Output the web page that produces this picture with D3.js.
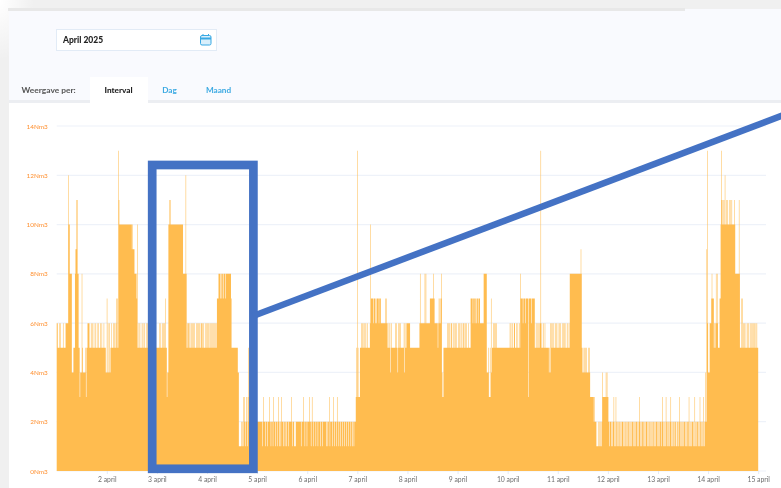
<!DOCTYPE html>
<html>
<head>
<meta charset="utf-8">
<script src="https://cdn.jsdelivr.net/npm/d3@7"></script>
<style>
html, body { margin: 0; padding: 0; background: #fff; overflow: hidden; }
text { font-family: Lato, "Open Sans", sans-serif; }
</style>
</head>
<body>
<div id="chart"></div>
<script>
var dayTicks = [2, 3, 4, 5, 6, 7, 8, 9, 10, 11, 12, 13, 14, 15];
var yTicks = [0, 2, 4, 6, 8, 10, 12, 14];
var tabNames = ["Interval", "Dag", "Maand"];

// [day in april, Nm3 from that moment on]
var baseRuns = [
    [1.00, 5], [1.17, 6], [1.23, 10], [1.26, 8], [1.30, 4], [1.33, 5], [1.36, 8], [1.43, 5], [1.45, 4], [1.51, 5],
    [1.52, 4], [1.57, 5], [1.97, 4], [2.07, 5], [2.23, 10], [2.52, 9], [2.55, 8], [2.59, 7], [2.61, 5], [3.19, 4],
    [3.23, 10], [3.52, 8], [3.59, 5], [4.20, 7], [4.23, 8], [4.47, 7], [4.49, 5], [4.61, 4], [4.63, 1], [4.68, 2],
    [6.96, 3], [7.05, 5], [7.25, 6], [7.27, 7], [7.46, 6], [7.60, 5], [7.98, 6], [8.05, 5], [8.24, 6], [8.44, 7],
    [8.54, 6], [8.60, 5], [9.26, 7], [9.44, 6], [9.52, 8], [9.58, 4], [9.60, 5], [10.26, 7], [10.54, 5], [11.24, 8],
    [11.47, 4], [11.64, 3], [11.71, 2], [11.88, 3], [12.01, 2], [13.96, 6], [14.00, 4], [14.03, 6], [14.06, 7],
    [14.11, 5], [14.22, 7], [14.25, 10], [14.54, 8], [14.63, 5]
];

// single intervals that stand out from the base level
var spikes13 = [2.23, 7.00, 10.66, 13.98, 14.26];
var spikes12 = [1.23, 3.57, 14.33];
var spikes11 = [1.39, 1.41, 2.24, 3.25, 3.27, 14.27, 14.29, 14.31, 14.36, 14.39, 14.42, 14.45, 14.47, 14.52, 14.61];
var spikes10 = [1.24, 2.60, 7.26];
var spikes9 = [1.37, 1.40, 2.50, 11.46, 13.97];
var spikes8 = [1.50, 8.25, 8.34, 8.36, 8.51, 8.68, 10.25, 14.07, 14.16, 14.18];
var spikes7 = [2.00, 2.19, 2.21, 3.17, 4.20, 7.55, 7.57, 8.62, 8.65, 8.67, 9.67, 10.66, 14.68, 14.66];
var spikes6 = [
    1.00, 1.01, 1.05, 1.07, 1.12, 1.46, 1.60, 1.62, 1.64, 1.66, 1.69, 1.71, 1.74, 1.77, 1.80, 1.83, 1.86, 1.90, 1.94,
    2.02, 2.05, 2.09, 2.12, 2.15, 2.18, 2.64, 2.66, 2.70, 2.72, 2.75, 2.78, 2.80, 3.05, 3.07, 3.10, 3.12, 3.15,
    3.60, 3.62, 3.64, 3.66, 3.69, 3.71, 3.73, 3.75, 3.78, 3.80, 3.82, 3.84, 3.87, 3.89, 3.91, 3.93, 3.96, 3.98,
    4.00, 4.02, 4.05, 4.07, 4.09, 4.11, 4.14, 4.16, 4.18, 4.81, 7.07, 7.09, 7.12, 7.15, 7.17, 7.20, 7.63, 7.65, 7.68,
    7.76, 7.78, 7.81, 7.83, 7.85, 7.93, 7.95, 8.61, 8.64, 8.66, 8.69, 8.79, 8.81, 8.83, 8.86, 8.88, 8.91, 8.93, 8.96,
    8.98, 9.01, 9.03, 9.06, 9.08, 9.11, 9.13, 9.16, 9.18, 9.21, 9.71, 9.73, 9.75, 9.77, 10.04, 10.06, 10.09, 10.12,
    10.14, 10.17, 10.20, 10.23, 10.56, 10.58, 10.60, 10.63, 10.65, 10.68, 10.71, 10.74, 10.82, 10.85, 10.87, 10.90,
    10.92, 10.95, 10.97, 11.00, 11.03, 11.05, 11.08, 11.10, 11.13, 11.16, 11.19, 11.22, 14.13, 14.15, 14.17, 14.19,
    14.70, 14.72, 14.75, 14.78, 14.80, 14.83, 14.85, 14.88, 14.90, 14.92, 14.95, 14.97, 15.00,
    7.31, 7.35, 7.38, 7.43, 9.30, 9.34, 9.38, 9.41, 10.30, 10.35, 10.41, 10.47
];
var spikes5 = [
    4.80, 4.82, 6.98, 7.01, 11.48, 11.50, 11.53, 11.55, 11.57, 11.60, 11.62
];
var spikes7b = [4.26, 4.29, 4.32, 4.36, 8.47, 8.50];
var spikes4 = [11.89, 11.96, 11.98, 4.62, 13.95];
var spikes3 = [
    4.72, 4.74, 4.76, 4.78, 4.81, 4.84, 4.86, 5.12, 5.24, 5.32, 5.42, 5.48, 5.55, 5.62, 5.68, 5.87, 5.92, 6.04, 6.09,
    6.38, 6.44, 6.52, 6.59, 11.73, 12.11, 12.16, 12.38, 12.63, 13.08, 13.16, 13.25, 13.43, 13.61, 13.73, 13.83, 13.91
];
var dips3 = [1.46, 1.58, 3.20, 8.70, 8.71, 9.62, 9.64, 9.66, 10.41];
var dips4 = [
    1.98, 2.04, 7.66, 7.80, 7.94, 8.67, 8.69, 9.60, 10.82, 10.84, 9.68
];
var dips1 = [
    4.70, 4.73, 4.76, 4.80, 4.85, 5.10, 5.17, 5.20, 5.27, 5.31, 5.36, 5.40, 5.44, 5.47, 5.52, 5.55, 5.58, 5.63, 5.70,
    5.74, 5.75, 5.76, 5.87, 5.95, 5.99, 6.07, 6.11, 6.17, 6.21, 6.26, 6.30, 6.38, 6.41, 6.45, 6.50, 6.54, 6.58, 6.62,
    6.66, 6.70, 6.74, 6.78, 6.82, 6.86, 6.90, 6.93, 11.77, 11.78, 11.79, 11.81, 11.82, 11.84, 11.86, 12.03, 12.06,
    12.08, 12.13, 12.15, 12.18, 12.20, 12.22, 12.25, 12.27, 12.30, 12.32, 12.35, 12.37, 12.40, 12.43, 12.45, 12.47,
    12.50, 12.52, 12.55, 12.58, 12.60, 12.65, 12.67, 12.70, 12.73, 12.75, 12.78, 12.80, 12.83, 12.85, 12.88, 12.90,
    12.93, 12.95, 12.98, 13.01, 13.03, 13.06, 13.10, 13.12, 13.15, 13.18, 13.20, 13.23, 13.26, 13.28, 13.31, 13.33,
    13.36, 13.38, 13.41, 13.44, 13.46, 13.49, 13.51, 13.54, 13.56, 13.59, 13.62, 13.65, 13.67, 13.70, 13.72, 13.75,
    13.77, 13.80, 13.82, 13.85, 13.88, 13.90, 13.93
];

var width = 781, height = 488;
var x = d3.scaleLinear().domain([1, 15]).range([56.7, 758.2]);
var y = d3.scaleLinear().domain([0, 14]).range([471, 126]);

// expand the runs to quarter hour values, then put the single intervals on top
var series = [];
var run = 0;
for (var i = 0; i <= 14 * 96; i++) {
    var day = 1 + i / 96;
    while (run < baseRuns.length - 1 && baseRuns[run + 1][0] <= day + 0.001) run++;
    series.push({ day: day, value: baseRuns[run][1] });
}

function setLevel(days, level) {
    days.forEach(function (d) {
        var idx = Math.round((d - 1) * 96);
        series[idx].value = level;
    });
}
setLevel(spikes6, 6);
setLevel(spikes5, 5);
setLevel(spikes4, 4);
setLevel(spikes3, 3);
setLevel(dips4, 4);
setLevel(dips3, 3);
setLevel(dips1, 1);
setLevel(spikes7, 7);
setLevel(spikes7b, 7);
setLevel(spikes8, 8);
setLevel(spikes9, 9);
setLevel(spikes10, 10);
setLevel(spikes11, 11);
setLevel(spikes12, 12);
setLevel(spikes13, 13);

var svg = d3.select("#chart").append("svg")
    .attr("width", width)
    .attr("height", height)
    .style("display", "block");

var defs = svg.append("defs");
defs.append("filter").attr("id", "soft")
    .attr("filterUnits", "userSpaceOnUse")
    .attr("x", 0).attr("y", 0).attr("width", width).attr("height", height)
    .append("feGaussianBlur").attr("stdDeviation", 0.5);
var fade = defs.append("radialGradient").attr("id", "cornerFade")
    .attr("cx", 0).attr("cy", 0).attr("r", 1);
fade.append("stop").attr("offset", "0%").attr("stop-color", "#fff").attr("stop-opacity", 1);
fade.append("stop").attr("offset", "100%").attr("stop-color", "#fff").attr("stop-opacity", 0);

var page = svg.append("g").attr("filter", "url(#soft)");

// page frame and panels
page.append("rect").attr("width", width).attr("height", height).attr("fill", "#f0f0f0");
page.append("rect").attr("x", 0).attr("y", 0).attr("width", 34).attr("height", 60).attr("fill", "url(#cornerFade)");
page.append("rect").attr("x", 8).attr("y", 8).attr("width", 677).attr("height", 3).attr("fill", "#e8e8e8");
page.append("rect").attr("x", 9).attr("y", 11).attr("width", 772).attr("height", 90).attr("fill", "#f9fafe");
page.append("rect").attr("x", 685).attr("y", 9).attr("width", 96).attr("height", 4).attr("fill", "#f9fafe");
page.append("rect").attr("x", 9).attr("y", 100).attr("width", 772).attr("height", 3).attr("fill", "#eceef2");
page.append("rect").attr("x", 9).attr("y", 103).attr("width", 772).attr("height", 385).attr("fill", "#fff");

// month picker
page.append("rect").attr("x", 56.5).attr("y", 29.5).attr("width", 160).attr("height", 21)
    .attr("fill", "#fff").attr("stroke", "#e2ebf6");
page.append("text").attr("x", 63).attr("y", 43).attr("font-size", 8.5).attr("font-weight", 900)
    .attr("fill", "#222").text("April 2025");
var cal = page.append("g").attr("fill", "none").attr("stroke", "#38a9e4");
cal.append("rect").attr("x", 200.5).attr("y", 35.5).attr("width", 10.5).attr("height", 9.5).attr("rx", 1.5).attr("fill", "#d9effb");
cal.append("path").attr("d", "M200.5 38.5H211").attr("stroke-width", 2);
cal.append("path").attr("d", "M203 34V36M208.5 34V36");

// tabs
page.append("text").attr("x", 21.5).attr("y", 93).attr("font-size", 8.4).attr("font-weight", 700)
    .attr("fill", "#555").text("Weergave per:");
page.append("rect").attr("x", 90).attr("y", 77).attr("width", 58).attr("height", 26).attr("fill", "#fff");
var tabX = [118.5, 169.5, 218.5];
page.selectAll(".tab").data(tabNames).enter().append("text")
    .attr("class", "tab")
    .attr("x", function (d, i) { return tabX[i]; })
    .attr("y", 93)
    .attr("text-anchor", "middle")
    .attr("font-size", 8.2)
    .attr("font-weight", function (d, i) { return i === 0 ? 900 : 700; })
    .attr("fill", function (d, i) { return i === 0 ? "#222" : "#3aa9e2"; })
    .text(function (d) { return d; });

// grid
page.selectAll(".grid").data(yTicks).enter().append("line")
    .attr("class", "grid")
    .attr("x1", x(1)).attr("x2", 766)
    .attr("y1", function (d) { return y(d); })
    .attr("y2", function (d) { return y(d); })
    .attr("stroke", "#eef2f9")
    .attr("stroke-width", 1.2);

// the measurements, one path so that thin intervals come out pale
var area = d3.area()
    .x(function (d) { return x(d.day); })
    .y0(y(0))
    .y1(function (d) { return y(d.value); })
    .curve(d3.curveStepAfter);
page.append("path").datum(series).attr("d", area).attr("fill", "#ffbc50");

// axes
var yAxis = page.append("g")
    .attr("transform", "translate(" + x(1) + ",0)")
    .call(d3.axisLeft(y).tickValues(yTicks).tickSize(0).tickPadding(9).tickFormat(function (d) { return d + "Nm3"; }));
yAxis.select(".domain").remove();
yAxis.selectAll("text").attr("font-size", 6.4).attr("fill", "#ff8f2e")
    .style("font-family", "Lato, sans-serif");

var xAxis = page.append("g")
    .attr("transform", "translate(0," + y(0) + ")")
    .call(d3.axisBottom(x).tickValues(dayTicks).tickSize(3).tickPadding(3).tickFormat(function (d) { return d + " april"; }));
xAxis.select(".domain").remove();
xAxis.selectAll("line").attr("stroke", "#e4eaf4");
xAxis.selectAll("text").attr("font-size", 6.8).attr("fill", "#6f6f6f")
    .style("font-family", "Lato, sans-serif");

// blue highlight drawn over the screenshot
svg.append("rect")
    .attr("x", 152.2).attr("y", 165).attr("width", 101.2).attr("height", 303.8)
    .attr("fill", "none").attr("stroke", "#4472c4").attr("stroke-width", 8.7);
svg.append("line")
    .attr("x1", 253).attr("y1", 316).attr("x2", 790).attr("y2", 112.6)
    .attr("stroke", "#4472c4").attr("stroke-width", 6.5);
</script>
</body>
</html>
